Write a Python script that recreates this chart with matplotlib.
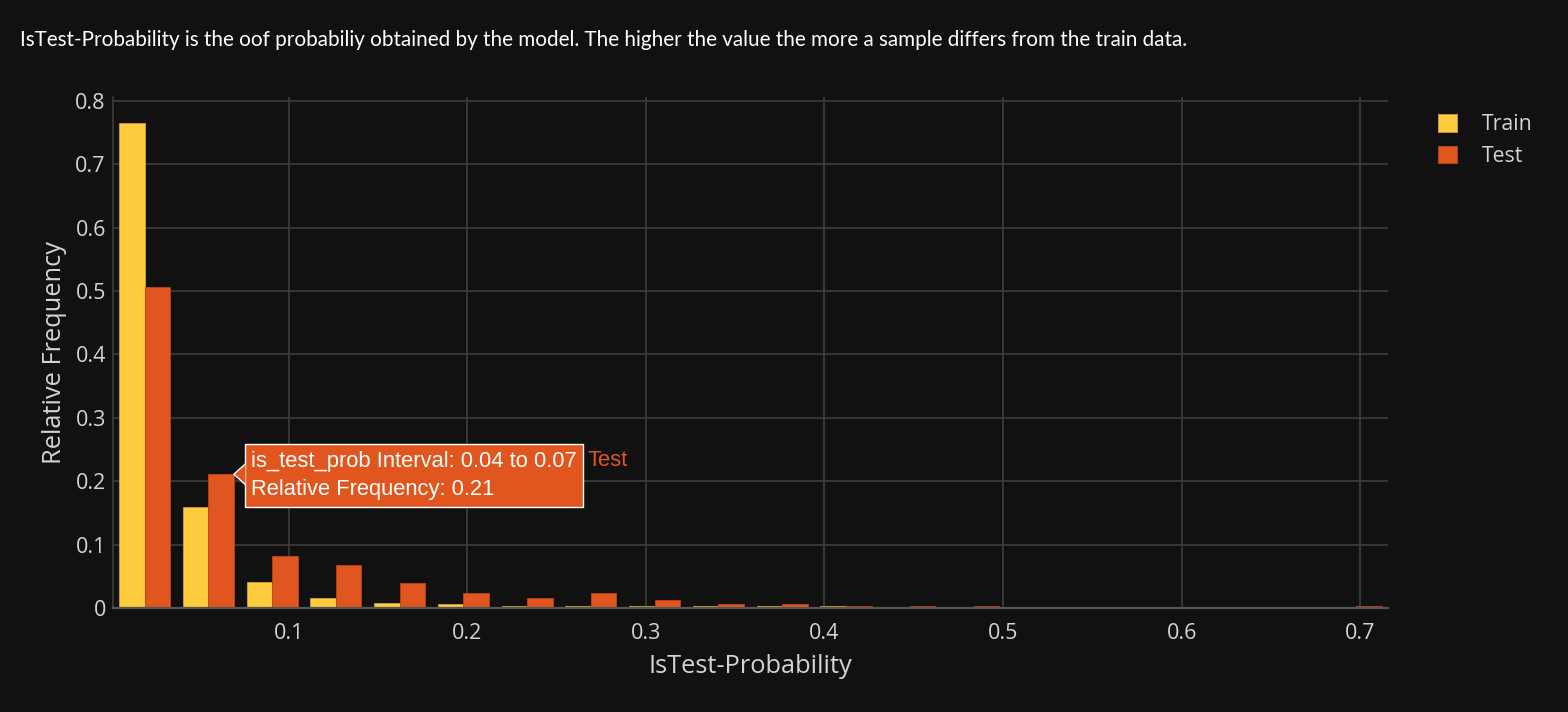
import numpy as np
import matplotlib
matplotlib.use("Agg")
import matplotlib.pyplot as plt
from matplotlib.patches import Rectangle, Polygon

# ---- data ----
bin_start = 0.0015
bin_width = 0.0357
train_freq = [0.765, 0.160, 0.041, 0.016, 0.008, 0.006, 0.003, 0.003, 0.003, 0.003,
              0.003, 0.003, 0.0, 0.0, 0.0, 0.0, 0.0, 0.0, 0.0, 0.0]
test_freq = [0.507, 0.211, 0.082, 0.068, 0.039, 0.024, 0.016, 0.024, 0.013, 0.006,
             0.007, 0.003, 0.003, 0.003, 0.0, 0.0, 0.0, 0.0, 0.0, 0.003]
series_names = ["Train", "Test"]
x_ticks = [0.1, 0.2, 0.3, 0.4, 0.5, 0.6, 0.7]
y_ticks = [0, 0.1, 0.2, 0.3, 0.4, 0.5, 0.6, 0.7, 0.8]
y_tick_labels = ["0", "0.1", "0.2", "0.3", "0.4", "0.5", "0.6", "0.7", "0.8"]
title_text = ("IsTest-Probability is the oof probabiliy obtained by the model. "
              "The higher the value the more a sample differs from the train data.")
hover_lines = ["is_test_prob Interval: 0.04 to 0.07", "Relative Frequency: 0.21"]
hover_bin = 1

# ---- style ----
BG = "#111111"
C_TRAIN = "#FECB3F"
C_TEST = "#E1561F"
GRID = "#3d3d3d"
TXT = "#d4d4d4"

W, H = 1568, 712
fig = plt.figure(figsize=(W / 100, H / 100), dpi=100, facecolor=BG)

L, R, T, B = 112.7, 1388, 97, 608
ax = fig.add_axes([L / W, 1 - B / H, (R - L) / W, (B - T) / H], facecolor=BG)

n = len(train_freq)
centers = bin_start + bin_width * (np.arange(n) + 0.5)
bw = bin_width * 0.4
ax.bar(centers - bw / 2, train_freq, width=bw, color=C_TRAIN, edgecolor="#c9a13a",
       linewidth=0.6, zorder=3, label=series_names[0])
ax.bar(centers + bw / 2, test_freq, width=bw, color=C_TEST, edgecolor="#b8461a",
       linewidth=0.6, zorder=3, label=series_names[1])

ax.set_xlim(bin_start, bin_start + bin_width * n)
ax.set_ylim(0, 0.8063)
ax.set_xticks(x_ticks)
ax.set_xticklabels([f"{v:g}" for v in x_ticks])
ax.set_yticks(y_ticks)
ax.set_yticklabels(y_tick_labels)
ax.grid(True, color=GRID, linewidth=1.2, zorder=0)
ax.tick_params(length=0, colors=TXT, labelsize=15.5)
ax.tick_params(axis="x", pad=11)
ax.tick_params(axis="y", pad=5)
for lab in ax.get_xticklabels() + ax.get_yticklabels():
    lab.set_fontfamily("Open Sans")
for s in ["top", "right"]:
    ax.spines[s].set_visible(False)
ax.spines["left"].set_color(GRID)
ax.spines["left"].set_linewidth(1.2)
ax.spines["bottom"].set_color("#555555")
ax.spines["bottom"].set_linewidth(1.6)
ax.spines["bottom"].set_zorder(4)

ax.set_xlabel("IsTest-Probability", fontfamily="Open Sans", fontsize=18.3, color=TXT, labelpad=7)
ax.set_ylabel("Relative Frequency", fontfamily="Open Sans", fontsize=18.3, color=TXT, labelpad=6)

fig.text(20 / W, 1 - 40 / H, title_text, fontfamily="Lato", fontsize=14.9, color="white",
         va="center", ha="left")

# legend
fig.legend(loc="upper left", bbox_to_anchor=(1438 / W, 1 - 114 / H), frameon=False,
           borderpad=0, borderaxespad=0,
           prop={"family": "Open Sans", "size": 15.3}, labelcolor=TXT,
           handlelength=0.9, handleheight=0.9, handletextpad=1.15, labelspacing=0.5)

# hover tooltip
tip_x = centers[hover_bin] + bw
tip_y = test_freq[hover_bin]
tip_px = ax.transData.transform((tip_x, tip_y))
ox, oy = tip_px[0] / W, tip_px[1] / H
bx0, bx1 = 245 / W, 583 / W
by0, by1 = 1 - 507 / H, 1 - 444 / H
fig.patches.append(Rectangle((bx0, by0), bx1 - bx0, by1 - by0, transform=fig.transFigure,
                             facecolor=C_TEST, edgecolor="white", linewidth=1.0, zorder=10))
fig.patches.append(Polygon([(ox, oy), (bx0 + 0.5 / W, oy + 10 / H), (bx0 + 0.5 / W, oy - 10 / H)],
                           closed=True, transform=fig.transFigure, facecolor=C_TEST,
                           edgecolor="none", zorder=11))
fig.lines.append(plt.Line2D([bx0, ox, bx0], [oy + 10 / H, oy, oy - 10 / H], transform=fig.transFigure,
                            color="white", linewidth=1.0, zorder=12))
fig.text(251 / W, 1 - 461 / H, hover_lines[0], fontfamily="Liberation Sans", fontsize=15.8,
         color="white", va="center", ha="left", zorder=13)
fig.text(251 / W, 1 - 489 / H, hover_lines[1], fontfamily="Liberation Sans", fontsize=15.8,
         color="white", va="center", ha="left", zorder=13)
fig.text(588 / W, 1 - 461 / H, series_names[1], fontfamily="Liberation Sans", fontsize=15.8,
         color=C_TEST, va="center", ha="left", zorder=13)

fig.savefig("out.png", dpi=100, facecolor=BG)
